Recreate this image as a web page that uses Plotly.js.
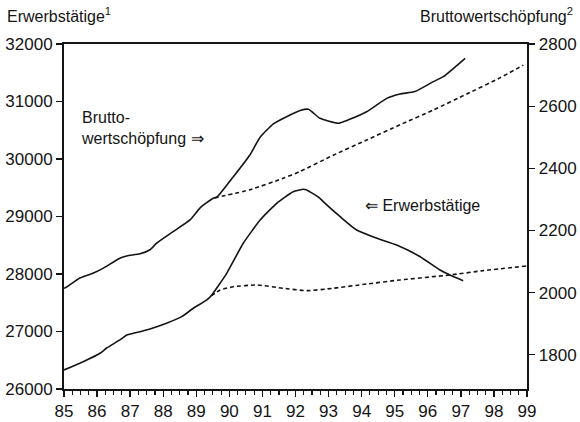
<!DOCTYPE html>
<html>
<head>
<meta charset="utf-8">
<script src="https://cdn.plot.ly/plotly-3.0.1.min.js"></script>
<style>html,body{margin:0;padding:0;background:#fff;}#chart{width:580px;height:422px;}</style>
</head>
<body>
<div id="chart"></div>
<script>
// Bruttowertschöpfung (right axis), solid
const bwsYears = [85.0,85.08,85.48,85.89,86.19,86.69,86.9,87.3,87.6,87.8,88.31,88.81,89.11,89.51,89.62,90.12,90.62,90.93,91.33,91.73,92.14,92.39,92.74,93.29,93.6,94.15,94.76,95.16,95.61,96.17,96.47,97.13];
const bwsValues = [2014,2018,2047,2063,2079,2111,2118,2125,2138,2159,2197,2234,2272,2304,2307,2373,2443,2500,2543,2566,2586,2590,2561,2545,2556,2582,2625,2639,2647,2679,2695,2754];
// Bruttowertschöpfung, dashed continuation
const bwsDashYears = [89.55,90.62,91.63,92.14,93.14,94.15,95.16,96.17,97.18,98.18,98.89];
const bwsDashValues = [2305,2331,2368,2390,2442,2491,2540,2588,2639,2691,2732];
// Erwerbstätige (left axis), solid
const ewtYears = [85.0,85.58,86.09,86.29,86.69,86.9,87.1,87.6,88.1,88.56,88.91,89.32,89.45,89.92,90.42,90.93,91.43,91.93,92.24,92.34,92.74,92.84,93.35,93.85,94.46,95.06,95.77,96.37,96.67,97.07];
const ewtValues = [26331,26475,26621,26713,26853,26940,26969,27044,27143,27258,27404,27548,27620,28012,28534,28939,29230,29431,29473,29461,29317,29258,28997,28765,28621,28505,28301,28070,27983,27884];
// Erwerbstätige, dashed continuation
const ewtDashYears = [89.45,89.72,90.12,90.83,91.63,92.34,93.14,94.15,95.16,96.67,97.68,98.99];
const ewtDashValues = [27620,27722,27779,27809,27752,27710,27752,27826,27896,27983,28058,28139];

const ink = '#141414';
const lineW = 1.6;
const traces = [
  {x: bwsYears, y: bwsValues, yaxis: 'y2', mode: 'lines', line: {color: ink, width: lineW, shape: 'spline', smoothing: 0.5}},
  {x: bwsDashYears, y: bwsDashValues, yaxis: 'y2', mode: 'lines', line: {color: ink, width: lineW, dash: '4px,3px', shape: 'spline', smoothing: 0.5}},
  {x: ewtYears, y: ewtValues, mode: 'lines', line: {color: ink, width: lineW, shape: 'spline', smoothing: 0.5}},
  {x: ewtDashYears, y: ewtDashValues, mode: 'lines', line: {color: ink, width: lineW, dash: '4px,3px', shape: 'spline', smoothing: 0.5}}
];
const fontFam = 'Liberation Sans, Arial, sans-serif';
const layout = {
  width: 580, height: 422,
  margin: {l: 64, r: 53, t: 44, b: 33},
  paper_bgcolor: '#fff', plot_bgcolor: '#fff',
  showlegend: false,
  font: {family: fontFam, size: 17, color: ink},
  xaxis: {
    range: [85, 99], tickmode: 'linear', tick0: 85, dtick: 1,
    ticks: 'outside', ticklen: 6, tickwidth: 1.4, tickcolor: ink,
    showline: true, linecolor: ink, linewidth: 2, mirror: true,
    showgrid: false, zeroline: false,
    minor: {tickmode: 'linear', tick0: 85, dtick: 0.25, ticks: 'outside', ticklen: 4, tickwidth: 1.1, tickcolor: ink, showgrid: false},
    tickfont: {size: 17, family: fontFam, color: ink}
  },
  yaxis: {
    range: [26000, 32000], dtick: 1000, tickformat: 'd',
    ticks: 'outside', ticklen: 6, tickwidth: 1.3, tickcolor: ink,
    showline: true, linecolor: ink, linewidth: 2,
    showgrid: false, zeroline: false,
    tickfont: {size: 17, family: fontFam, color: ink}
  },
  yaxis2: {
    range: [1690, 2800], dtick: 200, tick0: 1800, tickformat: 'd', overlaying: 'y', side: 'right',
    ticks: 'outside', ticklen: 6, tickwidth: 1.3, tickcolor: ink,
    showline: true, linecolor: ink, linewidth: 2.4,
    showgrid: false, zeroline: false,
    tickfont: {size: 17, family: fontFam, color: ink}
  },
  annotations: [
    {xref: 'paper', yref: 'paper', x: -0.128, y: 1.085, xanchor: 'left', yanchor: 'middle', showarrow: false,
     text: 'Erwerbstätige<sup>1</sup>', font: {size: 16, family: fontFam, color: ink}},
    {xref: 'paper', yref: 'paper', x: 1.104, y: 1.085, xanchor: 'right', yanchor: 'middle', showarrow: false,
     text: 'Bruttowertschöpfung<sup>2</sup>', font: {size: 16, family: fontFam, color: ink}},
    {xref: 'x', yref: 'paper', x: 85.45, y: 0.757, xanchor: 'left', yanchor: 'middle', showarrow: false, align: 'left',
     text: 'Brutto-<br>wertschöpfung ⇒', font: {size: 16, family: fontFam, color: ink}},
    {xref: 'x', yref: 'paper', x: 94.05, y: 0.532, xanchor: 'left', yanchor: 'middle', showarrow: false,
     text: '⇐ Erwerbstätige', font: {size: 16, family: fontFam, color: ink}}
  ]
};
Plotly.newPlot('chart', traces, layout, {staticPlot: true, displayModeBar: false});
</script>
</body>
</html>
